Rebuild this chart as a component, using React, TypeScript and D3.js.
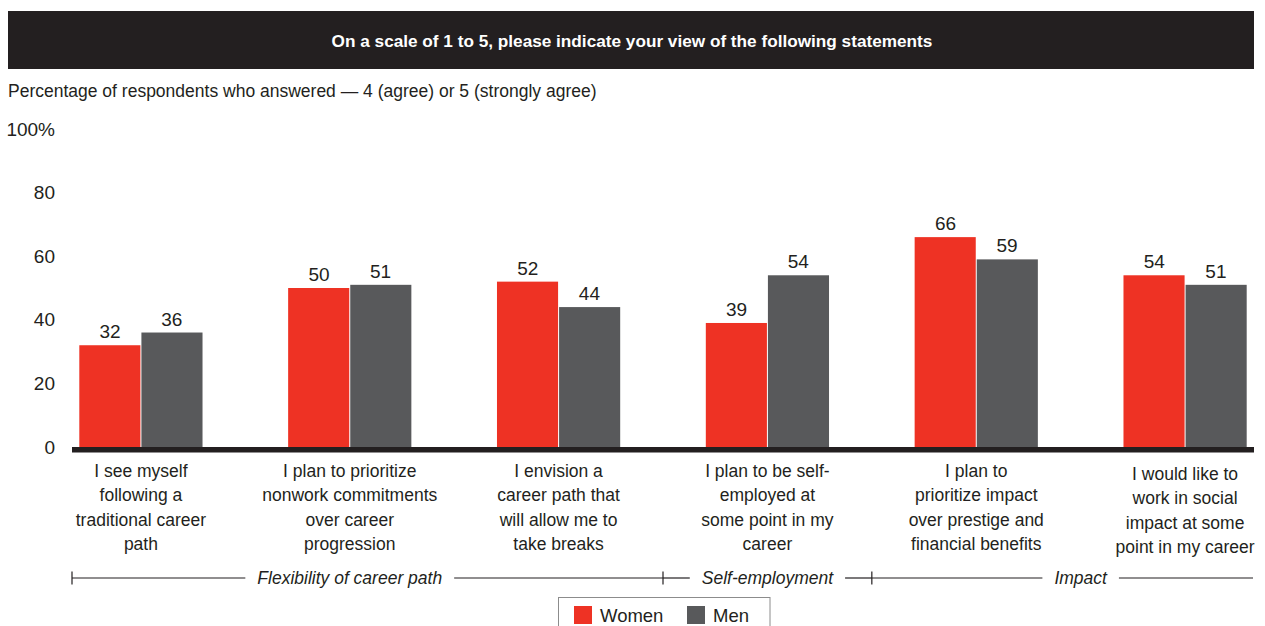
import React, { useEffect, useRef } from "react";
import * as d3 from "d3";

const categories: string[][] = [
  ["I see myself", "following a", "traditional career", "path"],
  ["I plan to prioritize", "nonwork commitments", "over career", "progression"],
  ["I envision a", "career path that", "will allow me to", "take breaks"],
  ["I plan to be self-", "employed at", "some point in my", "career"],
  ["I plan to", "prioritize impact", "over prestige and", "financial benefits"],
  ["I would like to", "work in social", "impact at some", "point in my career"],
];
const women: number[] = [32, 50, 52, 39, 66, 54];
const men: number[] = [36, 51, 44, 54, 59, 51];
const seriesNames: string[] = ["Women", "Men"];
const seriesColors: string[] = ["#ee3224", "#58595b"];
const yTicks: number[] = [0, 20, 40, 60, 80, 100];
const groups: { label: string; from: number; to: number }[] = [
  { label: "Flexibility of career path", from: 0, to: 2 },
  { label: "Self-employment", from: 3, to: 3 },
  { label: "Impact", from: 4, to: 5 },
];
const title = "On a scale of 1 to 5, please indicate your view of the following statements";
const subtitle = "Percentage of respondents who answered \u2014 4 (agree) or 5 (strongly agree)";

const W = 1265;
const H = 626;
const FONT = "'Liberation Sans', Arial, sans-serif";
const DARK = "#231f20";

export default function App() {
  const ref = useRef<SVGSVGElement | null>(null);

  useEffect(() => {
    const svg = d3.select(ref.current);
    svg.selectAll("*").remove();

    // title bar
    svg.append("rect").attr("x", 8).attr("y", 11).attr("width", 1246).attr("height", 58).attr("fill", DARK);
    svg.append("text").attr("x", 632).attr("y", 46.5).attr("text-anchor", "middle")
      .attr("fill", "#fff").attr("font-weight", "bold").attr("font-size", 17.2).attr("font-family", FONT)
      .text(title);
    svg.append("text").attr("x", 8).attr("y", 97).attr("fill", DARK).attr("font-size", 17.5)
      .attr("font-family", FONT).text(subtitle);

    const x = d3.scaleBand<number>().domain(d3.range(categories.length)).range([72, 1254])
      .paddingInner(0.41).paddingOuter(0.035);
    const sub = d3.scaleBand<number>().domain([0, 1]).range([0, x.bandwidth()]);
    const y = d3.scaleLinear().domain([0, 100]).range([447, 129]);

    // y tick labels
    svg.append("g").selectAll("text").data(yTicks).join("text")
      .attr("x", 55).attr("y", (d) => y(d)).attr("dy", "0.35em").attr("text-anchor", "end")
      .attr("fill", DARK).attr("font-size", 19).attr("font-family", FONT)
      .text((d) => (d === 100 ? "100%" : String(d)));

    const data = [women, men];
    data.forEach((vals, s) => {
      const g = svg.append("g");
      g.selectAll("rect").data(vals).join("rect")
        .attr("x", (_d, i) => (x(i) as number) + (sub(s) as number) + (s === 1 ? 0.5 : 0))
        .attr("y", (d) => y(d))
        .attr("width", sub.bandwidth() - 0.5)
        .attr("height", (d) => y(0) - y(d))
        .attr("fill", seriesColors[s]);
      g.selectAll("text").data(vals).join("text")
        .attr("x", (_d, i) => (x(i) as number) + (sub(s) as number) + sub.bandwidth() / 2)
        .attr("y", (d) => y(d) - 7)
        .attr("text-anchor", "middle").attr("fill", DARK).attr("font-size", 19).attr("font-family", FONT)
        .text((d) => String(d));
    });

    // axis baseline
    svg.append("rect").attr("x", 72).attr("y", 447).attr("width", 1182).attr("height", 5.5).attr("fill", DARK);

    // category labels
    const cx = (i: number) => (x(i) as number) + x.bandwidth() / 2;
    categories.forEach((lines, i) => {
      const t = svg.append("text").attr("text-anchor", "middle").attr("fill", DARK)
        .attr("font-size", 17.5).attr("font-family", FONT);
      const y0 = i === 5 ? 480 : 477;
      lines.forEach((ln, j) => {
        t.append("tspan").attr("x", cx(i)).attr("y", y0 + j * 24.3).text(ln);
      });
    });

    // group brackets
    const by = 578;
    const half = x.step() / 2;
    const bounds: number[] = [];
    groups.forEach((g, gi) => {
      const left = gi === 0 ? 72 : (cx(g.from) - half);
      const right = gi === groups.length - 1 ? 1253 : (cx(g.to) + half);
      const center = (cx(g.from) + cx(g.to)) / 2;
      const t = svg.append("text").attr("x", center).attr("y", by + 6).attr("text-anchor", "middle")
        .attr("fill", DARK).attr("font-size", 17.5).attr("font-style", "italic").attr("font-family", FONT)
        .text(g.label);
      const w = (t.node() as SVGTextElement).getComputedTextLength();
      const gap = 12;
      svg.append("line").attr("x1", left).attr("x2", center - w / 2 - gap).attr("y1", by).attr("y2", by)
        .attr("stroke", DARK).attr("stroke-width", 1.2);
      svg.append("line").attr("x1", center + w / 2 + gap).attr("x2", right).attr("y1", by).attr("y2", by)
        .attr("stroke", DARK).attr("stroke-width", 1.2);
      bounds.push(left);
    });
    bounds.forEach((b) => {
      svg.append("line").attr("x1", b).attr("x2", b).attr("y1", by - 6.5).attr("y2", by + 6.5)
        .attr("stroke", DARK).attr("stroke-width", 1.2);
    });

    // legend
    svg.append("rect").attr("x", 558.5).attr("y", 597.5).attr("width", 211.5).attr("height", 45)
      .attr("fill", "#fff").attr("stroke", "#8c8c8c").attr("stroke-width", 1);
    const lx = [574, 687];
    seriesNames.forEach((n, i) => {
      svg.append("rect").attr("x", lx[i]).attr("y", 606).attr("width", 18).attr("height", 18).attr("fill", seriesColors[i]);
      svg.append("text").attr("x", lx[i] + 26).attr("y", 622).attr("fill", DARK).attr("font-size", 18.5)
        .attr("font-family", FONT).text(n);
    });
  }, []);

  return (
    <svg ref={ref} width={W} height={H}
      style={{ position: "absolute", left: 0, top: 0, background: "#fff", display: "block" }} />
  );
}
